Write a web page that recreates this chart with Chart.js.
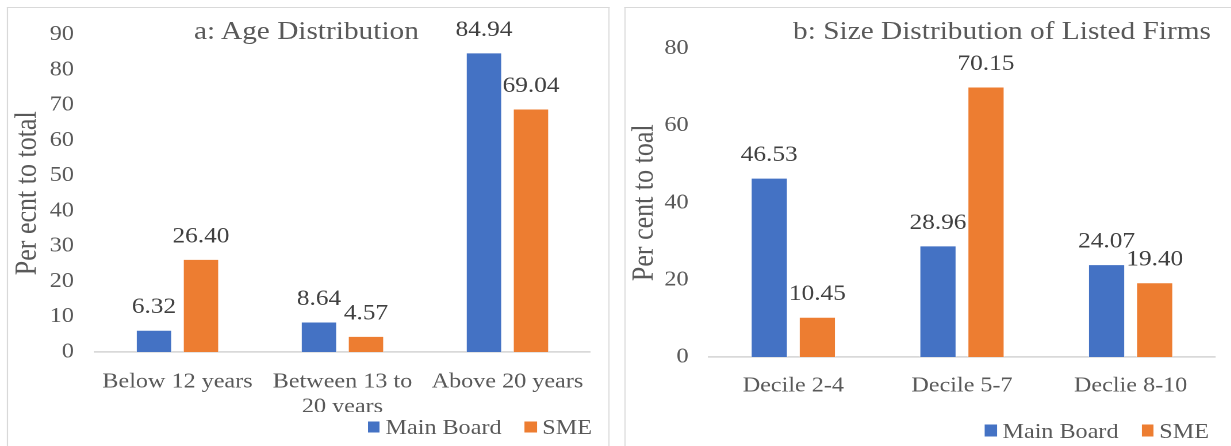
<!DOCTYPE html>
<html>
<head>
<meta charset="utf-8">
<script src="https://cdn.jsdelivr.net/npm/chart.js@4.4.1/dist/chart.umd.min.js"></script>
<style>
  html, body { margin: 0; padding: 0; background: #fff; overflow: hidden; }
  #wrap { position: absolute; left: 0; top: 0; width: 1070.4px; height: 446px;
          transform: scaleX(1.15); transform-origin: 0 0; font-family: "Liberation Serif", "Times New Roman", serif; }
  .panel { position: absolute; border: 1px solid #d9d9d9; border-bottom: none; background: transparent; }
  canvas { position: absolute; top: 0; }
  .ttl { position: absolute; transform: translate(-50%, -50%); white-space: nowrap; line-height: 1;
         font-size: 25.5px; color: #595959; }
  .legend { position: absolute; display: flex; align-items: center; white-space: nowrap;
            font-size: 21px; color: #595959; line-height: 1; transform: translateY(-50%); }
  .legend .item { display: flex; align-items: center; }
  .legend .box { width: 10.5px; height: 11.5px; margin-right: 5px; }
</style>
</head>
<body>
<div id="wrap">
  <div class="panel" style="left:6px; top:7px; width:522px; height:460px;"></div>
  <div class="panel" style="left:543px; top:7px; width:560px; height:460px;"></div>
  <canvas id="c1" width="530" height="446" style="left:0px;"></canvas>
  <canvas id="c2" width="530" height="446" style="left:540px;"></canvas>
  <div class="ttl" style="left:266.5px; top:30.5px;">a: Age Distribution</div>
  <div class="ttl" style="left:871.3px; top:31px;">b: Size Distribution of Listed Firms</div>
  <div class="legend" id="lg1" style="right:555.6px; top:427px;"></div>
  <div class="legend" id="lg2" style="right:19.1px; top:430.5px;"></div>
</div>
<script>
// ---- data ----
const ageCategories = ["Below 12 years", ["Between 13 to", "20 years"], "Above 20 years"];
const ageMainBoard = [6.32, 8.64, 84.94];
const ageSME = [26.40, 4.57, 69.04];
const ageTicks = [0, 10, 20, 30, 40, 50, 60, 70, 80, 90];

const sizeCategories = ["Decile 2-4", "Decile 5-7", "Declie 8-10"];
const sizeMainBoard = [46.53, 28.96, 24.07];
const sizeSME = [10.45, 70.15, 19.40];
const sizeTicks = [0, 20, 40, 60, 80];

const seriesNames = ["Main Board", "SME"];
const seriesColors = ["#4472C4", "#ED7D31"];

const FONT = '"Liberation Serif", "Times New Roman", serif';

const valueLabels = {
  id: 'valueLabels',
  afterDatasetsDraw(chart) {
    const ctx = chart.ctx;
    ctx.save();
    ctx.font = '22px ' + FONT;
    ctx.fillStyle = '#404040';
    ctx.textAlign = 'center';
    ctx.textBaseline = 'alphabetic';
    chart.data.datasets.forEach((ds, i) => {
      const meta = chart.getDatasetMeta(i);
      meta.data.forEach((bar, j) => {
        ctx.fillText(Number(ds.data[j]).toFixed(2), bar.x, bar.y - 16.5);
      });
    });
    ctx.restore();
  }
};

function makeChart(id, cats, main, sme, ticks, yTitle, geo) {
  const chart = new Chart(document.getElementById(id), {
    type: 'bar',
    data: {
      labels: cats,
      datasets: [
        { label: seriesNames[0], data: main, backgroundColor: seriesColors[0], borderColor: 'rgba(255,255,255,0.4)', borderWidth: 1 },
        { label: seriesNames[1], data: sme, backgroundColor: seriesColors[1], borderColor: 'rgba(255,255,255,0.4)', borderWidth: 1 }
      ]
    },
    options: {
      responsive: false,
      animation: false,
      devicePixelRatio: 2,
      datasets: { bar: { categoryPercentage: 0.57, barPercentage: 0.78 } },
      layout: { padding: { left: 0, right: geo.padRight, top: geo.padTop, bottom: geo.padBottom } },
      plugins: { legend: { display: false }, title: { display: false }, tooltip: { enabled: false } },
      scales: {
        x: {
          grid: { display: false, drawTicks: false },
          border: { display: true, color: '#d9d9d9', width: 1.8 },
          ticks: { color: '#595959', padding: geo.xTickPad, font: { family: FONT, size: 21, lineHeight: 1.2 }, maxRotation: 0, autoSkip: false },
          afterFit(s) { s.height = 60; }
        },
        y: {
          min: ticks[0], max: ticks[ticks.length - 1],
          afterBuildTicks(s) { s.ticks = ticks.map(v => ({ value: v })); },
          grid: { display: false, drawTicks: false },
          border: { display: false },
          ticks: { color: '#595959', padding: geo.yTickPad, font: { family: FONT, size: 21 } },
          title: { display: true, text: yTitle, color: '#595959', padding: { top: geo.yTitlePad, bottom: 0 }, font: { family: FONT, size: 26, lineHeight: 1.2, weight: 'normal' } },
          afterFit(s) { s.width = geo.yWidth; }
        }
      }
    },
    plugins: [valueLabels]
  });
  return chart;
}

function buildLegend(chart, elId) {
  const el = document.getElementById(elId);
  chart.data.datasets.forEach((ds, i) => {
    const item = document.createElement('div');
    item.className = 'item';
    if (i > 0) item.style.marginLeft = '20px';
    const box = document.createElement('div');
    box.className = 'box';
    box.style.background = ds.backgroundColor;
    const txt = document.createElement('span');
    txt.textContent = ds.label;
    item.appendChild(box); item.appendChild(txt);
    el.appendChild(item);
  });
}

const c1 = makeChart('c1', ageCategories, ageMainBoard, ageSME, ageTicks, 'Per ecnt to total',
  { padRight: 17, padTop: 34.5, padBottom: 34, xTickPad: 17.4, yTickPad: 18.3, yTitlePad: 8.7, yWidth: 82.6 });
const c2 = makeChart('c2', sizeCategories, sizeMainBoard, sizeSME, sizeTicks, 'Per cent to toal',
  { padRight: 13.5, padTop: 48.5, padBottom: 29, xTickPad: 16.4, yTickPad: 17.8, yTitlePad: 5.3, yWidth: 76.5 });
buildLegend(c1, 'lg1');
buildLegend(c2, 'lg2');
</script>
</body>
</html>
